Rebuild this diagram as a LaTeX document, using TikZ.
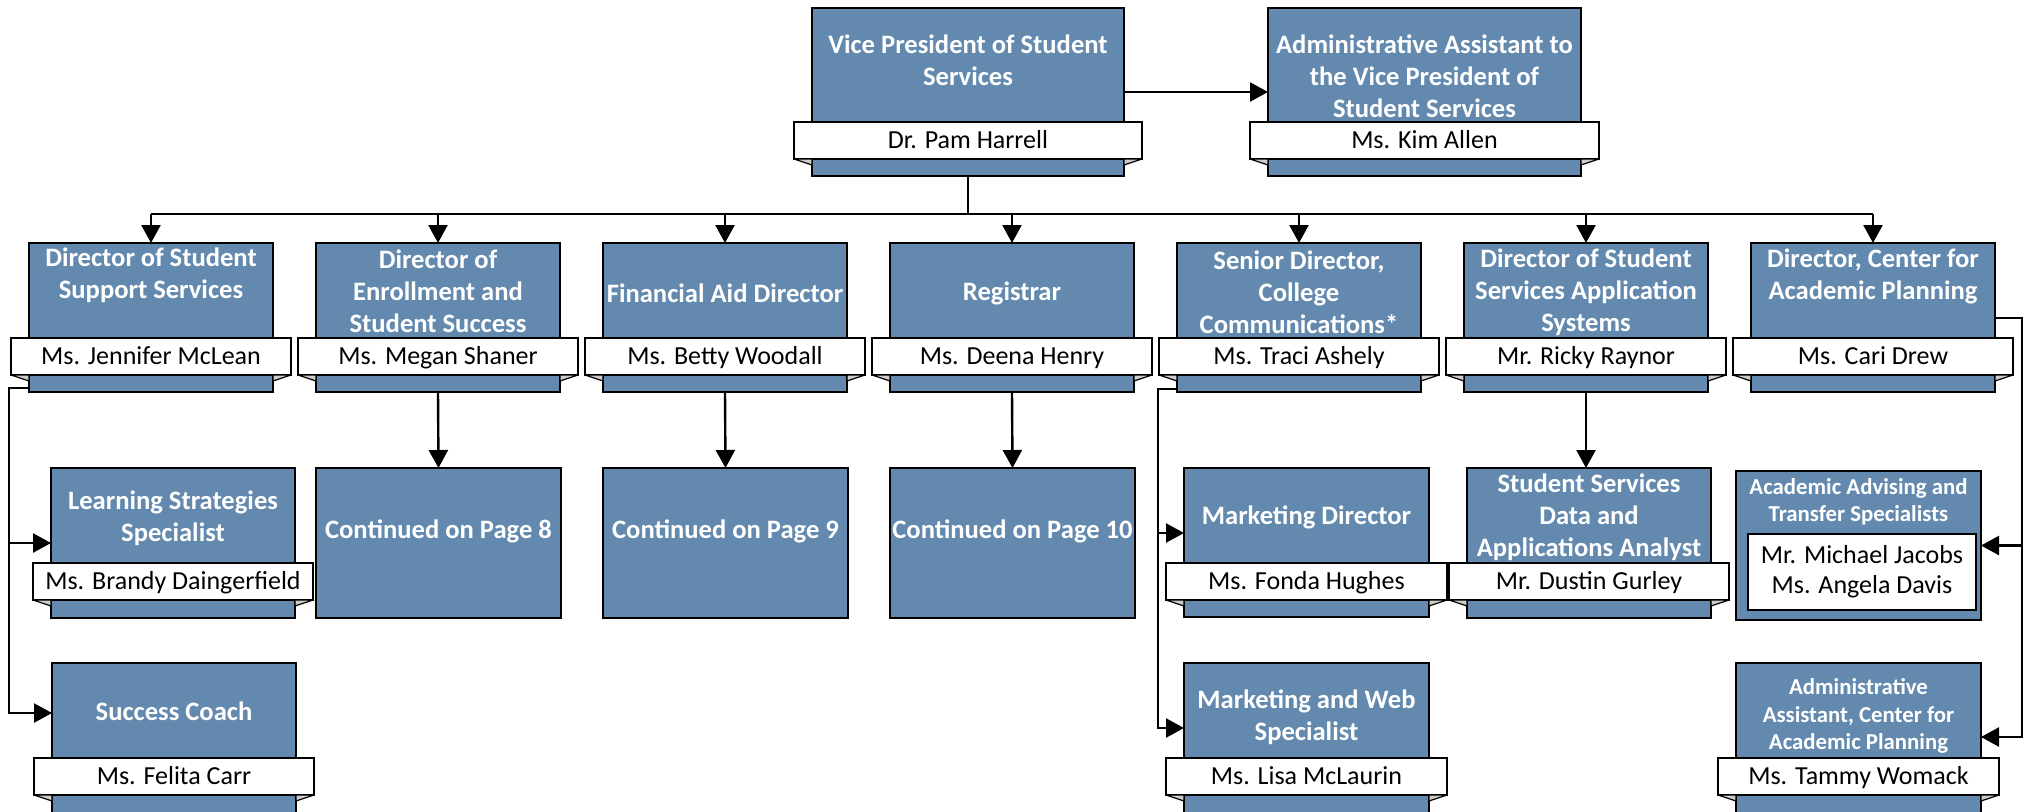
\documentclass[tikz,border=0pt]{standalone}
\usepackage{fontspec}
\setmainfont{Carlito}
\usetikzlibrary{arrows.meta}
\definecolor{boxblue}{RGB}{99,138,174}
\definecolor{foldgray}{RGB}{205,205,205}
\tikzset{
  bluebox/.style={draw=black, line width=0.9pt, fill=boxblue, inner sep=0pt, outer sep=0pt},
  banner/.style={draw=black, line width=0.9pt, fill=white, inner sep=0pt, outer sep=0pt,
    minimum height=18.5pt, font=\fontsize{13}{15}\selectfont, text height=9.6pt, text depth=1.3pt},
  titletxt/.style={text=white, font=\bfseries\fontsize{13.3}{16}\selectfont, align=center, inner sep=0pt},
  smalltitle/.style={text=white, font=\bfseries\fontsize{11.4}{13.75}\selectfont, align=center, inner sep=0pt},
  fold/.style={fill=foldgray, draw=black, line width=0.6pt, line join=round},
  conn/.style={draw=black, line width=1.2pt},
  arr/.style={conn, -{Triangle[length=9pt,width=9.5pt]}},
}
% #1 name, #2 left, #3 right, #4 top, #5 bottom, #6 title centre y, #7 banner top, #8 title, #9 person
\newcommand\orgunit[9]{%
  \node[bluebox, anchor=north west, minimum width={(#3-(#2))*0.5pt}, minimum height={(#5-(#4))*0.5pt}] (#1) at (#2,#4) {};
  \node[titletxt] (#1T) at ({(#2+#3)/2},#6) {#8};
  \node[banner, anchor=north, minimum width={(#3-(#2)+36)*0.5pt}] (#1N) at ({(#2+#3)/2},#7) {#9};
  \filldraw[fold] (#1N.south west) -- (#1N.south west -| #1.west) -- ++(0,6) -- cycle;
  \filldraw[fold] (#1N.south east) -- (#1N.south east -| #1.east) -- ++(0,6) -- cycle;
}
\begin{document}
\begin{tikzpicture}[x=0.5pt, y=-0.5pt]
\useasboundingbox (0,0) rectangle (2026,811);
\clip (0,0) rectangle (2026,811);

% top level
\orgunit{vp}{812}{1124}{8}{176}{60}{122}{Vice President of Student\\Services}{Dr. Pam Harrell}
\orgunit{admin}{1268}{1581}{8}{176}{76}{122}{Administrative Assistant to\\the Vice President of\\Student Services}{Ms. Kim Allen}

% second level
\orgunit{sss}{29}{273}{243}{392}{275}{338}{Director of Student\\Support Services}{Ms. Jennifer McLean}
\orgunit{des}{316}{560}{243}{392}{291}{338}{Director of\\Enrollment and\\Student Success}{Ms. Megan Shaner}
\orgunit{fad}{603}{847}{243}{392}{293}{338}{Financial Aid Director}{Ms. Betty Woodall}
\orgunit{reg}{890}{1134}{243}{392}{293}{338}{Registrar}{Ms. Deena Henry}
\orgunit{sdc}{1177}{1421}{243}{392}{292}{338}{Senior Director,\\College\\Communications*}{Ms. Traci Ashely}
\orgunit{dss}{1464}{1708}{243}{392}{292}{338}{Director of Student\\Services Application\\Systems}{Mr. Ricky Raynor}
\orgunit{dcap}{1751}{1995}{243}{392}{276}{338}{Director, Center for\\Academic Planning}{Ms. Cari Drew}

% third level
\orgunit{lss}{51}{295}{468}{618}{518}{563}{Learning Strategies\\Specialist}{Ms. Brandy Daingerfield}
\node[bluebox, anchor=north west, minimum width=122.5pt, minimum height=75pt] (c8) at (316,468) {};
\node[titletxt] (c8T) at (c8.center |- 0,531) {Continued on Page 8};
\node[bluebox, anchor=north west, minimum width=122.5pt, minimum height=75pt] (c9) at (603,468) {};
\node[titletxt] (c9T) at (c9.center |- 0,531) {Continued on Page 9};
\node[bluebox, anchor=north west, minimum width=122.5pt, minimum height=75pt] (c10) at (890,468) {};
\node[titletxt] (c10T) at (c10.center |- 0,531) {Continued on Page 10};
\orgunit{mkd}{1184}{1429}{468}{617}{517}{563}{Marketing Director}{Ms. Fonda Hughes}
\orgunit{ssda}{1467}{1711}{468}{618}{517}{563}{Student Services\\Data and\\Applications Analyst}{Mr. Dustin Gurley}
\node[bluebox, anchor=north west, minimum width=122.5pt, minimum height=74.5pt] (acad) at (1736,471) {};
\node[smalltitle] (acadT) at (acad.center |- 0,502) {Academic Advising and\\Transfer Specialists};
\node[draw=black, line width=0.9pt, fill=white, inner sep=0pt, outer sep=0pt, anchor=north west,
  minimum width=114pt, minimum height=38pt, align=center, font=\fontsize{13}{15}\selectfont] (acadN) at (1748,534)
  {Mr. Michael Jacobs\\Ms. Angela Davis};

% fourth level
\orgunit{coach}{52}{296}{663}{840}{711}{758}{Success Coach}{Ms. Felita Carr}
\orgunit{mkw}{1184}{1429}{663}{840}{717}{758}{Marketing and Web\\Specialist}{Ms. Lisa McLaurin}
\node[bluebox, anchor=north west, minimum width=122.5pt, minimum height=90pt] (acap) at (1736,663) {};
\node[smalltitle] (acapT) at (acap.center |- 0,716) {Administrative\\Assistant, Center for\\Academic Planning};
\node[banner, anchor=north, minimum width=140.5pt] (acapN) at (acap.north |- 0,758) {Ms. Tammy Womack};
\filldraw[fold] (acapN.south west) -- (acapN.south west -| acap.west) -- ++(0,6) -- cycle;
\filldraw[fold] (acapN.south east) -- (acapN.south east -| acap.east) -- ++(0,6) -- cycle;

% connectors
\coordinate (bus) at (968,214);
\draw[conn] (vp.south) -- (vp.south |- bus);
\draw[conn] (bus -| sss.north) -- (bus -| dcap.north);
\foreach \n in {sss,des,fad,reg,sdc,dss,dcap} \draw[arr] (bus -| \n.north) -- (\n.north);
\draw[arr] (vp.east) -- (admin.west);

\draw[arr] (des.south) -- (c8.north);
\draw[arr] (fad.south) -- (c9.north);
\draw[arr] (reg.south) -- (c10.north);
\draw[arr] (dss.south) -- (dss.south |- ssda.north);

\coordinate (lx) at (9,388);
\coordinate (coachA) at ([yshift=-25pt]coach.north west);
\draw[arr] (sss.west |- lx) -- (lx) |- (coachA);
\draw[arr] (lx |- lss.west) -- (lss.west);

\coordinate (mx) at (1158,389);
\coordinate (mkdA) at ([yshift=-32.5pt]mkd.north west);
\coordinate (mkwA) at ([yshift=-32.5pt]mkw.north west);
\draw[arr] (sdc.west |- mx) -- (mx) |- (mkwA);
\draw[arr] (mx |- mkdA) -- (mkdA);

\coordinate (rx) at (2022,318);
\coordinate (acapA) at ([yshift=-37pt]acap.north east);
\draw[arr] (dcap.east |- rx) -- (rx) |- (acapA);
\draw[arr] (rx |- acad.east) -- (acad.east);
\end{tikzpicture}
\end{document}
